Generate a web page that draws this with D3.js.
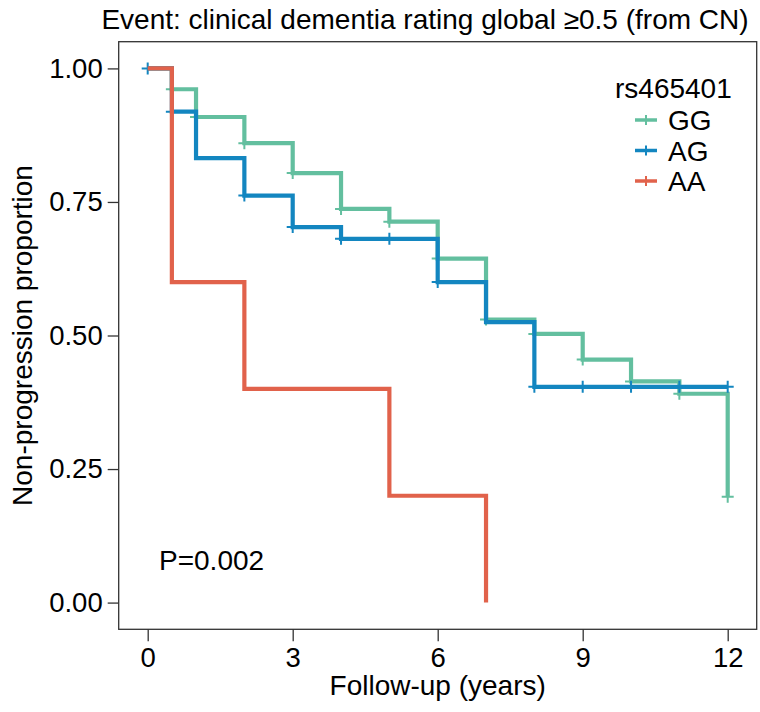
<!DOCTYPE html>
<html>
<head>
<meta charset="utf-8">
<script src="https://cdn.jsdelivr.net/npm/d3@7"></script>
<style>
  html, body { margin: 0; padding: 0; background: #fff; }
  svg text { font-family: "Liberation Sans", Arial, Helvetica, sans-serif; fill: #000; }
</style>
</head>
<body>
<svg id="chart" width="760" height="712"></svg>
<script>
// ---- data ----
const titleText = "Event: clinical dementia rating global \u22650.5 (from CN)";
const legendTitle = "rs465401";
const groups = ["GG", "AG", "AA"];
const colors = ["#63bf9f", "#1386c0", "#e1624b"];

const ggTimes = [0, 0.5, 1, 2, 3, 4, 5, 6, 7, 8, 9, 10, 11, 12];
const ggSurv  = [1, 0.961, 0.909, 0.860, 0.804, 0.737, 0.713, 0.644, 0.530, 0.503, 0.455, 0.414, 0.391, 0.198];
const ggEnd = 12;
const ggCensor = [0.5, 1, 2, 3, 4, 5, 6, 7, 8, 9, 10, 11, 12];

const agTimes = [0, 0.5, 1, 2, 3, 4, 6, 7, 8];
const agSurv  = [1, 0.919, 0.832, 0.762, 0.703, 0.681, 0.600, 0.525, 0.404];
const agEnd = 12;
const agCensor = [0, 0.5, 2, 3, 4, 5, 6, 8, 9, 10, 11, 12];

const aaTimes = [0, 0.5, 2, 5, 7];
const aaSurv  = [1, 0.6, 0.4, 0.2, 0];
const aaEnd = 7;
const aaCensor = [];

const xTicks = [0, 3, 6, 9, 12];
const yTicks = [0, 0.25, 0.5, 0.75, 1];
const pText = "P=0.002";

// ---- layout ----
const svg = d3.select("#chart");
const panel = { left: 118.7, right: 756.7, top: 41.7, bottom: 629.3 };
const x = d3.scaleLinear().domain([-0.6, 12.6]).range([panel.left, panel.right]);
const y = d3.scaleLinear().domain([-0.05, 1.05]).range([panel.bottom, panel.top]);

const series = [
  { name: "GG", times: ggTimes, surv: ggSurv, end: ggEnd, censor: ggCensor },
  { name: "AG", times: agTimes, surv: agSurv, end: agEnd, censor: agCensor },
  { name: "AA", times: aaTimes, surv: aaSurv, end: aaEnd, censor: aaCensor }
];
const color = d3.scaleOrdinal().domain(groups).range(colors);

// panel border
svg.append("rect")
  .attr("x", panel.left).attr("y", panel.top)
  .attr("width", panel.right - panel.left).attr("height", panel.bottom - panel.top)
  .attr("fill", "none").attr("stroke", "#333").attr("stroke-width", 1.3);

// axes
const tickFont = 27.5;
const textFont = 28;
const yAxis = svg.append("g").attr("transform", `translate(${panel.left},0)`)
  .call(d3.axisLeft(y).tickValues(yTicks).tickFormat(d3.format(".2f")).tickSize(11).tickPadding(5));
const xAxis = svg.append("g").attr("transform", `translate(0,${panel.bottom})`)
  .call(d3.axisBottom(x).tickValues(xTicks).tickFormat(d3.format("d")).tickSize(12).tickPadding(6));
[xAxis, yAxis].forEach(g => {
  g.select(".domain").remove();
  g.selectAll(".tick line").attr("stroke", "#333").attr("stroke-width", 1.3);
  g.selectAll(".tick text").attr("font-size", tickFont)
    .attr("font-family", "'Liberation Sans', Arial, Helvetica, sans-serif").attr("fill", "#000");
});

// curves
const line = d3.line().x(d => x(d[0])).y(d => y(d[1])).curve(d3.curveStepAfter);
const stepAt = (s, t) => {
  let v = s.surv[0];
  s.times.forEach((tt, i) => { if (tt <= t) v = s.surv[i]; });
  return v;
};
series.forEach(s => {
  const pts = s.times.map((t, i) => [t, s.surv[i]]);
  if (s.end > s.times[s.times.length - 1]) pts.push([s.end, s.surv[s.surv.length - 1]]);
  svg.append("path").datum(pts)
    .attr("d", line).attr("fill", "none")
    .attr("stroke", color(s.name)).attr("stroke-width", 4.2)
    .attr("stroke-linejoin", "miter").attr("stroke-linecap", "butt");
  const cg = svg.append("g");
  s.censor.forEach(t => {
    const cx = x(t), cy = y(stepAt(s, t));
    cg.append("path")
      .attr("d", `M${cx - 6},${cy}H${cx + 6}M${cx},${cy - 6}V${cy + 6}`)
      .attr("stroke", color(s.name)).attr("stroke-width", 2).attr("fill", "none");
  });
});

// title
svg.append("text").attr("x", 425).attr("y", 29).attr("text-anchor", "middle")
  .attr("font-size", textFont).text(titleText);

// axis titles
svg.append("text").attr("x", (panel.left + panel.right) / 2).attr("y", 695)
  .attr("text-anchor", "middle").attr("font-size", textFont).text("Follow-up (years)");
svg.append("text").attr("transform", `translate(32,${(panel.top + panel.bottom) / 2}) rotate(-90)`)
  .attr("text-anchor", "middle").attr("font-size", textFont).text("Non-progression proportion");

// p-value
svg.append("text").attr("x", 159).attr("y", 570).attr("font-size", textFont).text(pText);

// legend
const lg = svg.append("g");
lg.append("text").attr("x", 615).attr("y", 98).attr("font-size", textFont).text(legendTitle);
groups.forEach((g, i) => {
  const ly = 120 + i * 30.5;
  lg.append("line").attr("x1", 635).attr("x2", 657).attr("y1", ly).attr("y2", ly)
    .attr("stroke", color(g)).attr("stroke-width", 3.5);
  lg.append("path").attr("d", `M${646 - 5},${ly}H${646 + 5}M${646},${ly - 5}V${ly + 5}`)
    .attr("stroke", color(g)).attr("stroke-width", 2);
  lg.append("text").attr("x", 668).attr("y", ly + 10).attr("font-size", textFont).text(g);
});
</script>
</body>
</html>
